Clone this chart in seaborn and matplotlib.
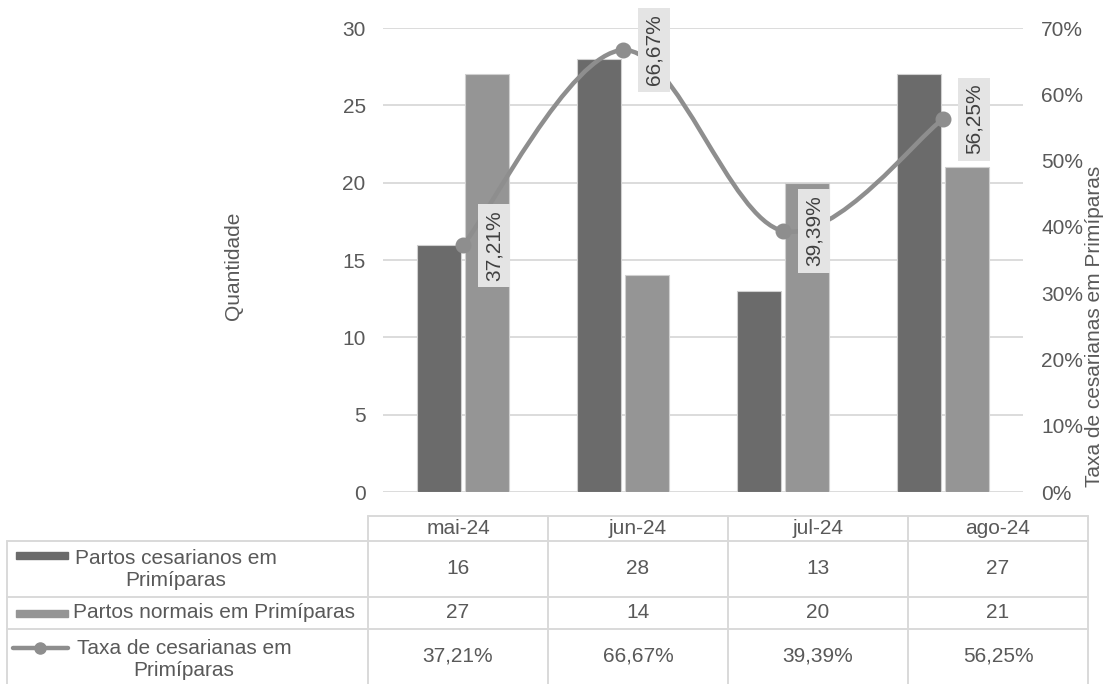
import numpy as np
import pandas as pd
import matplotlib
matplotlib.use("Agg")
from matplotlib import pyplot as plt
from matplotlib.path import Path
from matplotlib.patches import PathPatch, Rectangle
from matplotlib.lines import Line2D
import seaborn as sns

# dados
meses = ['mai-24', 'jun-24', 'jul-24', 'ago-24']
cesarianos = [16, 28, 13, 27]
normais = [27, 14, 20, 21]
taxa = [37.21, 66.67, 39.39, 56.25]
nome_ces = 'Partos cesarianos em Primíparas'
nome_norm = 'Partos normais em Primíparas'
nome_taxa = 'Taxa de cesarianas em Primíparas'

c_dark = '#6b6b6b'
c_light = '#959595'
c_line = '#8e8e8e'
c_grid = '#d9d9d9'
c_text = '#595959'
fs = 15

sns.set_style('white')
plt.rcParams['font.family'] = ['Liberation Sans', 'DejaVu Sans']

W, H = 1104, 684
fig = plt.figure(figsize=(11.04, 6.84), dpi=100)


def fx(px):
    return px / W


def fy(py):
    return 1 - py / H


ax = fig.add_axes([fx(383), fy(492), fx(1023) - fx(383), fy(28) - fy(492)])
df = pd.DataFrame({'mes': meses * 2,
                   'qtd': cesarianos + normais,
                   'serie': [nome_ces] * len(meses) + [nome_norm] * len(meses)})
sns.barplot(data=df, x='mes', y='qtd', hue='serie', palette=[c_dark, c_light],
            width=0.6, gap=0.1, saturation=1, legend=False, ax=ax,
            linewidth=0.8, edgecolor='#d0d0d0')
ax.set_xlim(-0.5, len(meses) - 0.5)
ax.set_ylim(0, 30)
ax.set_yticks(range(0, 31, 5))
ax.set_axisbelow(True)
ax.grid(axis='y', color=c_grid, lw=1.3)
ax.set_xticks([])
ax.set_xlabel('')
ax.set_ylabel('')
ax.tick_params(axis='y', length=0, pad=12.5, labelsize=fs, labelcolor=c_text)
for s in ax.spines.values():
    s.set_visible(False)

ax2 = ax.twinx()
ax2.set_ylim(0, 70)
ax2.set_yticks(range(0, 71, 10))
ax2.set_yticklabels([f'{v}%' for v in range(0, 71, 10)])
ax2.tick_params(axis='y', length=0, pad=13, labelsize=fs, labelcolor=c_text)
for s in ax2.spines.values():
    s.set_visible(False)

# linha suavizada (estilo Excel) com curvas de Bezier
x = np.arange(len(taxa))
y = np.array(taxa)
verts = [(x[0], y[0])]
codes = [Path.MOVETO]
for i in range(len(x) - 1):
    p0 = max(i - 1, 0)
    p3 = min(i + 2, len(x) - 1)
    c1 = (x[i] + (x[i + 1] - x[p0]) / 6, y[i] + (y[i + 1] - y[p0]) / 6)
    c2 = (x[i + 1] - (x[p3] - x[i]) / 6, y[i + 1] - (y[p3] - y[i]) / 6)
    verts += [c1, c2, (x[i + 1], y[i + 1])]
    codes += [Path.CURVE4] * 3
ax2.add_patch(PathPatch(Path(verts, codes), fill=False, edgecolor=c_line,
                        lw=3.2, capstyle='round', joinstyle='round'))
ax2.plot(x, y, 'o', ms=10.5, color=c_line)

for i, v in enumerate(taxa):
    ax2.annotate(f'{v:.2f}%'.replace('.', ','), (i, v), xytext=(31, 0),
                 textcoords='offset pixels', rotation=90, ha='center', va='center',
                 fontsize=fs, color='#404040',
                 bbox=dict(boxstyle='square,pad=0.3', fc='#e4e4e4', ec='none'))

fig.text(fx(234), fy(266), 'Quantidade', rotation=90, ha='center', va='center',
         fontsize=fs, color=c_text)
fig.text(fx(1094), fy(326), nome_taxa, rotation=90, ha='center', va='center',
         fontsize=fs, color=c_text)

# tabela de dados
tf = fig.transFigure


def hline(py, x0, x1):
    fig.add_artist(Line2D([fx(x0), fx(x1)], [fy(py), fy(py)], color=c_grid, lw=1.4, transform=tf))


def vline(px, y0, y1):
    fig.add_artist(Line2D([fx(px), fx(px)], [fy(y0), fy(y1)], color=c_grid, lw=1.4, transform=tf))


cols = [368, 548, 728, 908, 1088]
rows = [541, 597, 629, 684]
hline(516, cols[0], cols[-1])
for r in rows[:-1]:
    hline(r, 7, cols[-1])
for c in cols:
    vline(c, 516, 684)
vline(7, 541, 684)

for j, m in enumerate(meses):
    cx = (cols[j] + cols[j + 1]) / 2
    fig.text(fx(cx), fy(528), m, ha='center', va='center', fontsize=fs, color=c_text)
    fig.text(fx(cx), fy(569), str(cesarianos[j]), ha='center', va='center', fontsize=fs, color=c_text)
    fig.text(fx(cx), fy(613), str(normais[j]), ha='center', va='center', fontsize=fs, color=c_text)
    fig.text(fx(cx), fy(656), f'{taxa[j]:.2f}%'.replace('.', ','), ha='center', va='center',
             fontsize=fs, color=c_text)

# legendas dentro da tabela
fig.add_artist(Rectangle((fx(16), fy(559)), fx(68) - fx(16), fy(552) - fy(559),
                         color=c_dark, transform=tf))
fig.text(fx(176), fy(569), 'Partos cesarianos em\nPrimíparas', ha='center', va='center',
         multialignment='center', fontsize=fs, color=c_text, linespacing=1.2)
fig.add_artist(Rectangle((fx(16), fy(617)), fx(68) - fx(16), fy(610) - fy(617),
                         color=c_light, transform=tf))
fig.text(fx(73), fy(613), nome_norm, ha='left', va='center', fontsize=fs, color=c_text)
fig.add_artist(Line2D([fx(13), fx(68)], [fy(648), fy(648)], color=c_line, lw=3.2,
                      transform=tf))
fig.add_artist(Line2D([fx(40)], [fy(648)], color=c_line, marker='o', ms=8, transform=tf))
fig.text(fx(184), fy(660), 'Taxa de cesarianas em\nPrimíparas', ha='center', va='center',
         multialignment='center', fontsize=fs, color=c_text, linespacing=1.2)

fig.savefig('out.png', dpi=100)
